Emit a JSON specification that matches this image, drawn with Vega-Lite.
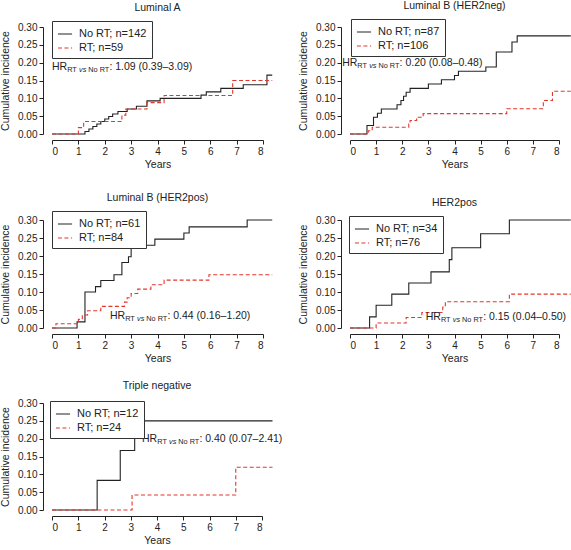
{
  "$schema": "https://vega.github.io/schema/vega-lite/v6.json",
  "padding": {"left": 0, "top": 1, "right": 0, "bottom": 0},
  "background": "white",
  "config": {
    "font": "Liberation Sans",
    "view": {"stroke": null},
    "title": {"font": "Liberation Sans", "fontSize": 10.5, "fontWeight": "normal", "color": "#222", "offset": 7},
    "axis": {"domainColor": "#222", "tickColor": "#222", "labelColor": "#222", "titleColor": "#222", "labelFont": "Liberation Sans", "titleFont": "Liberation Sans", "labelFontSize": 10, "titleFontSize": 10.5, "titleFontWeight": "normal", "grid": false, "tickSize": 4, "domainWidth": 1, "tickWidth": 1, "labelOverlap": false},
    "axisX": {"offset": 6, "format": "d", "tickCount": 8, "labelPadding": 2, "titlePadding": 3},
    "axisY": {"offset": 9, "format": ".2f", "tickCount": 6, "labelPadding": 2, "titlePadding": 7},
    "legend": {"title": null, "labelFont": "Liberation Sans", "labelFontSize": 11, "labelColor": "#222", "symbolType": "stroke", "symbolSize": 200, "symbolStrokeWidth": 1.1, "strokeColor": "#333", "fillColor": "white", "padding": 5, "rowPadding": 1, "labelOffset": 6}
  },
  "datasets": {
    "km": [
      {"panel": "LA", "series": "No RT; n=142", "t": 0, "ci": 0},
      {"panel": "LA", "series": "No RT; n=142", "t": 1.25, "ci": 0.007},
      {"panel": "LA", "series": "No RT; n=142", "t": 1.4, "ci": 0.014},
      {"panel": "LA", "series": "No RT; n=142", "t": 1.55, "ci": 0.021},
      {"panel": "LA", "series": "No RT; n=142", "t": 1.7, "ci": 0.028},
      {"panel": "LA", "series": "No RT; n=142", "t": 1.85, "ci": 0.035},
      {"panel": "LA", "series": "No RT; n=142", "t": 2.0, "ci": 0.042},
      {"panel": "LA", "series": "No RT; n=142", "t": 2.15, "ci": 0.049},
      {"panel": "LA", "series": "No RT; n=142", "t": 2.3, "ci": 0.056},
      {"panel": "LA", "series": "No RT; n=142", "t": 2.5, "ci": 0.063},
      {"panel": "LA", "series": "No RT; n=142", "t": 2.85, "ci": 0.07},
      {"panel": "LA", "series": "No RT; n=142", "t": 3.2, "ci": 0.078},
      {"panel": "LA", "series": "No RT; n=142", "t": 3.6, "ci": 0.093},
      {"panel": "LA", "series": "No RT; n=142", "t": 4.1, "ci": 0.1},
      {"panel": "LA", "series": "No RT; n=142", "t": 5.65, "ci": 0.109},
      {"panel": "LA", "series": "No RT; n=142", "t": 5.85, "ci": 0.118},
      {"panel": "LA", "series": "No RT; n=142", "t": 6.4, "ci": 0.128},
      {"panel": "LA", "series": "No RT; n=142", "t": 7.25, "ci": 0.138},
      {"panel": "LA", "series": "No RT; n=142", "t": 8.15, "ci": 0.165},
      {"panel": "LA", "series": "No RT; n=142", "t": 8.35, "ci": 0.165},
      {"panel": "LA", "series": "RT; n=59", "t": 0, "ci": 0},
      {"panel": "LA", "series": "RT; n=59", "t": 1.0, "ci": 0.018},
      {"panel": "LA", "series": "RT; n=59", "t": 1.2, "ci": 0.035},
      {"panel": "LA", "series": "RT; n=59", "t": 2.65, "ci": 0.053},
      {"panel": "LA", "series": "RT; n=59", "t": 2.8, "ci": 0.07},
      {"panel": "LA", "series": "RT; n=59", "t": 3.6, "ci": 0.088},
      {"panel": "LA", "series": "RT; n=59", "t": 4.25, "ci": 0.108},
      {"panel": "LA", "series": "RT; n=59", "t": 6.85, "ci": 0.15},
      {"panel": "LA", "series": "RT; n=59", "t": 8.35, "ci": 0.15},

      {"panel": "LBN", "series": "No RT; n=87", "t": 0, "ci": 0},
      {"panel": "LBN", "series": "No RT; n=87", "t": 0.65, "ci": 0.024},
      {"panel": "LBN", "series": "No RT; n=87", "t": 0.9, "ci": 0.047},
      {"panel": "LBN", "series": "No RT; n=87", "t": 1.05, "ci": 0.058},
      {"panel": "LBN", "series": "No RT; n=87", "t": 1.2, "ci": 0.07},
      {"panel": "LBN", "series": "No RT; n=87", "t": 1.8, "ci": 0.082},
      {"panel": "LBN", "series": "No RT; n=87", "t": 1.95, "ci": 0.094},
      {"panel": "LBN", "series": "No RT; n=87", "t": 2.05, "ci": 0.106},
      {"panel": "LBN", "series": "No RT; n=87", "t": 2.15, "ci": 0.117},
      {"panel": "LBN", "series": "No RT; n=87", "t": 2.3, "ci": 0.128},
      {"panel": "LBN", "series": "No RT; n=87", "t": 3.0, "ci": 0.14},
      {"panel": "LBN", "series": "No RT; n=87", "t": 3.5, "ci": 0.152},
      {"panel": "LBN", "series": "No RT; n=87", "t": 4.0, "ci": 0.164},
      {"panel": "LBN", "series": "No RT; n=87", "t": 4.15, "ci": 0.176},
      {"panel": "LBN", "series": "No RT; n=87", "t": 5.2, "ci": 0.188},
      {"panel": "LBN", "series": "No RT; n=87", "t": 5.6, "ci": 0.23},
      {"panel": "LBN", "series": "No RT; n=87", "t": 6.2, "ci": 0.258},
      {"panel": "LBN", "series": "No RT; n=87", "t": 6.4, "ci": 0.275},
      {"panel": "LBN", "series": "No RT; n=87", "t": 8.45, "ci": 0.275},
      {"panel": "LBN", "series": "RT; n=106", "t": 0, "ci": 0},
      {"panel": "LBN", "series": "RT; n=106", "t": 0.7, "ci": 0.009},
      {"panel": "LBN", "series": "RT; n=106", "t": 0.85, "ci": 0.019},
      {"panel": "LBN", "series": "RT; n=106", "t": 2.25, "ci": 0.028},
      {"panel": "LBN", "series": "RT; n=106", "t": 2.3, "ci": 0.038},
      {"panel": "LBN", "series": "RT; n=106", "t": 2.55, "ci": 0.047},
      {"panel": "LBN", "series": "RT; n=106", "t": 2.8, "ci": 0.057},
      {"panel": "LBN", "series": "RT; n=106", "t": 6.0, "ci": 0.071},
      {"panel": "LBN", "series": "RT; n=106", "t": 7.4, "ci": 0.094},
      {"panel": "LBN", "series": "RT; n=106", "t": 7.75, "ci": 0.12},
      {"panel": "LBN", "series": "RT; n=106", "t": 8.45, "ci": 0.12},

      {"panel": "LBP", "series": "No RT; n=61", "t": 0, "ci": 0},
      {"panel": "LBP", "series": "No RT; n=61", "t": 0.95, "ci": 0.017},
      {"panel": "LBP", "series": "No RT; n=61", "t": 1.25, "ci": 0.1},
      {"panel": "LBP", "series": "No RT; n=61", "t": 1.65, "ci": 0.115},
      {"panel": "LBP", "series": "No RT; n=61", "t": 1.85, "ci": 0.132},
      {"panel": "LBP", "series": "No RT; n=61", "t": 2.35, "ci": 0.148},
      {"panel": "LBP", "series": "No RT; n=61", "t": 2.65, "ci": 0.182},
      {"panel": "LBP", "series": "No RT; n=61", "t": 2.9, "ci": 0.198},
      {"panel": "LBP", "series": "No RT; n=61", "t": 3.0, "ci": 0.23},
      {"panel": "LBP", "series": "No RT; n=61", "t": 3.9, "ci": 0.247},
      {"panel": "LBP", "series": "No RT; n=61", "t": 5.0, "ci": 0.264},
      {"panel": "LBP", "series": "No RT; n=61", "t": 5.2, "ci": 0.281},
      {"panel": "LBP", "series": "No RT; n=61", "t": 7.4, "ci": 0.3},
      {"panel": "LBP", "series": "No RT; n=61", "t": 8.35, "ci": 0.3},
      {"panel": "LBP", "series": "RT; n=84", "t": 0, "ci": 0},
      {"panel": "LBP", "series": "RT; n=84", "t": 0.15, "ci": 0.012},
      {"panel": "LBP", "series": "RT; n=84", "t": 1.0, "ci": 0.024},
      {"panel": "LBP", "series": "RT; n=84", "t": 1.15, "ci": 0.036},
      {"panel": "LBP", "series": "RT; n=84", "t": 1.35, "ci": 0.048},
      {"panel": "LBP", "series": "RT; n=84", "t": 1.85, "ci": 0.06},
      {"panel": "LBP", "series": "RT; n=84", "t": 2.75, "ci": 0.072},
      {"panel": "LBP", "series": "RT; n=84", "t": 2.85, "ci": 0.084},
      {"panel": "LBP", "series": "RT; n=84", "t": 3.0, "ci": 0.096},
      {"panel": "LBP", "series": "RT; n=84", "t": 3.25, "ci": 0.108},
      {"panel": "LBP", "series": "RT; n=84", "t": 3.75, "ci": 0.12},
      {"panel": "LBP", "series": "RT; n=84", "t": 4.25, "ci": 0.133},
      {"panel": "LBP", "series": "RT; n=84", "t": 5.95, "ci": 0.148},
      {"panel": "LBP", "series": "RT; n=84", "t": 8.35, "ci": 0.148},

      {"panel": "H2", "series": "No RT; n=34", "t": 0, "ci": 0},
      {"panel": "H2", "series": "No RT; n=34", "t": 0.75, "ci": 0.031},
      {"panel": "H2", "series": "No RT; n=34", "t": 1.0, "ci": 0.063},
      {"panel": "H2", "series": "No RT; n=34", "t": 1.6, "ci": 0.094},
      {"panel": "H2", "series": "No RT; n=34", "t": 2.25, "ci": 0.125},
      {"panel": "H2", "series": "No RT; n=34", "t": 3.1, "ci": 0.156},
      {"panel": "H2", "series": "No RT; n=34", "t": 3.8, "ci": 0.19},
      {"panel": "H2", "series": "No RT; n=34", "t": 3.9, "ci": 0.223},
      {"panel": "H2", "series": "No RT; n=34", "t": 5.0, "ci": 0.262},
      {"panel": "H2", "series": "No RT; n=34", "t": 6.1, "ci": 0.3},
      {"panel": "H2", "series": "No RT; n=34", "t": 8.45, "ci": 0.3},
      {"panel": "H2", "series": "RT; n=76", "t": 0, "ci": 0},
      {"panel": "H2", "series": "RT; n=76", "t": 1.0, "ci": 0.014},
      {"panel": "H2", "series": "RT; n=76", "t": 2.15, "ci": 0.029},
      {"panel": "H2", "series": "RT; n=76", "t": 2.75, "ci": 0.043},
      {"panel": "H2", "series": "RT; n=76", "t": 3.55, "ci": 0.058},
      {"panel": "H2", "series": "RT; n=76", "t": 3.65, "ci": 0.073},
      {"panel": "H2", "series": "RT; n=76", "t": 6.1, "ci": 0.094},
      {"panel": "H2", "series": "RT; n=76", "t": 8.45, "ci": 0.094},

      {"panel": "TN", "series": "No RT; n=12", "t": 0, "ci": 0},
      {"panel": "TN", "series": "No RT; n=12", "t": 1.72, "ci": 0.083},
      {"panel": "TN", "series": "No RT; n=12", "t": 2.6, "ci": 0.167},
      {"panel": "TN", "series": "No RT; n=12", "t": 3.15, "ci": 0.25},
      {"panel": "TN", "series": "No RT; n=12", "t": 8.4, "ci": 0.25},
      {"panel": "TN", "series": "RT; n=24", "t": 0, "ci": 0},
      {"panel": "TN", "series": "RT; n=24", "t": 3.05, "ci": 0.042},
      {"panel": "TN", "series": "RT; n=24", "t": 7.0, "ci": 0.12},
      {"panel": "TN", "series": "RT; n=24", "t": 8.4, "ci": 0.12}
    ]
  },
  "resolve": {"scale": {"color": "independent", "strokeDash": "independent"}, "legend": {"color": "independent", "strokeDash": "independent"}},
  "vconcat": [
    {
      "resolve": {"scale": {"color": "independent", "strokeDash": "independent"}, "legend": {"color": "independent", "strokeDash": "independent"}},
      "vconcat": [
        {
          "resolve": {"scale": {"color": "independent", "strokeDash": "independent"}, "legend": {"color": "independent", "strokeDash": "independent"}},
          "hconcat": [
            {
              "width": 211, "height": 107,
              "title": "Luminal A",
              "layer": [
                {"data": {"name": "km"}, "transform": [{"filter": "datum.panel === 'LA'"}],
                 "mark": {"type": "line", "interpolate": "step-after", "strokeWidth": 1.1},
                 "encoding": {
                   "x": {"field": "t", "type": "quantitative", "scale": {"domain": [0, 8], "nice": false, "zero": false}, "axis": {"title": "Years"}},
                   "y": {"field": "ci", "type": "quantitative", "scale": {"domain": [0, 0.3], "nice": false}, "axis": {"title": "Cumulative incidence"}},
                   "color": {"field": "series", "type": "nominal", "scale": {"range": ["#222222", "#e3372d"]}, "legend": {"orient": "none", "legendX": 0, "legendY": -6}},
                   "strokeDash": {"field": "series", "type": "nominal", "scale": {"range": [[1, 0], [4, 2.5]]}, "legend": {"orient": "none", "legendX": 0, "legendY": -6}}
                 }},
                {"data": {"values": [{}]}, "mark": {"type": "text", "align": "left", "baseline": "middle", "fontSize": 10.5, "color": "#222", "text": "HR"}, "encoding": {"x": {"datum": 0, "type": "quantitative"}, "y": {"datum": 0.188, "type": "quantitative"}}},
                {"data": {"values": [{}]}, "mark": {"type": "text", "align": "left", "baseline": "middle", "fontSize": 7.3, "color": "#222", "dx": 15.2, "dy": 3, "text": "RT"}, "encoding": {"x": {"datum": 0, "type": "quantitative"}, "y": {"datum": 0.188, "type": "quantitative"}}},
                {"data": {"values": [{}]}, "mark": {"type": "text", "align": "left", "baseline": "middle", "fontSize": 7.3, "fontStyle": "italic", "color": "#222", "dx": 27, "dy": 3, "text": "vs"}, "encoding": {"x": {"datum": 0, "type": "quantitative"}, "y": {"datum": 0.188, "type": "quantitative"}}},
                {"data": {"values": [{}]}, "mark": {"type": "text", "align": "left", "baseline": "middle", "fontSize": 7.3, "color": "#222", "dx": 36.3, "dy": 3, "text": "No RT"}, "encoding": {"x": {"datum": 0, "type": "quantitative"}, "y": {"datum": 0.188, "type": "quantitative"}}},
                {"data": {"values": [{}]}, "mark": {"type": "text", "align": "left", "baseline": "middle", "fontSize": 10.5, "color": "#222", "dx": 57.4, "text": ": 1.09 (0.39–3.09)"}, "encoding": {"x": {"datum": 0, "type": "quantitative"}, "y": {"datum": 0.188, "type": "quantitative"}}}
              ]
            },
            {
              "width": 209, "height": 107,
              "title": "Luminal B (HER2neg)",
              "layer": [
                {"data": {"name": "km"}, "transform": [{"filter": "datum.panel === 'LBN'"}],
                 "mark": {"type": "line", "interpolate": "step-after", "strokeWidth": 1.1},
                 "encoding": {
                   "x": {"field": "t", "type": "quantitative", "scale": {"domain": [0, 8], "nice": false, "zero": false}, "axis": {"title": "Years"}},
                   "y": {"field": "ci", "type": "quantitative", "scale": {"domain": [0, 0.3], "nice": false}, "axis": {"title": "Cumulative incidence"}},
                   "color": {"field": "series", "type": "nominal", "scale": {"range": ["#222222", "#e3372d"]}, "legend": {"orient": "none", "legendX": 1, "legendY": -8}},
                   "strokeDash": {"field": "series", "type": "nominal", "scale": {"range": [[1, 0], [4, 2.5]]}, "legend": {"orient": "none", "legendX": 1, "legendY": -8}}
                 }},
                {"data": {"values": [{}]}, "mark": {"type": "text", "align": "left", "baseline": "middle", "fontSize": 10.5, "color": "#222", "text": "HR"}, "encoding": {"x": {"datum": -0.3, "type": "quantitative"}, "y": {"datum": 0.199, "type": "quantitative"}}},
                {"data": {"values": [{}]}, "mark": {"type": "text", "align": "left", "baseline": "middle", "fontSize": 7.3, "color": "#222", "dx": 15.2, "dy": 3, "text": "RT"}, "encoding": {"x": {"datum": -0.3, "type": "quantitative"}, "y": {"datum": 0.199, "type": "quantitative"}}},
                {"data": {"values": [{}]}, "mark": {"type": "text", "align": "left", "baseline": "middle", "fontSize": 7.3, "fontStyle": "italic", "color": "#222", "dx": 27, "dy": 3, "text": "vs"}, "encoding": {"x": {"datum": -0.3, "type": "quantitative"}, "y": {"datum": 0.199, "type": "quantitative"}}},
                {"data": {"values": [{}]}, "mark": {"type": "text", "align": "left", "baseline": "middle", "fontSize": 7.3, "color": "#222", "dx": 36.3, "dy": 3, "text": "No RT"}, "encoding": {"x": {"datum": -0.3, "type": "quantitative"}, "y": {"datum": 0.199, "type": "quantitative"}}},
                {"data": {"values": [{}]}, "mark": {"type": "text", "align": "left", "baseline": "middle", "fontSize": 10.5, "color": "#222", "dx": 57.4, "text": ": 0.20 (0.08–0.48)"}, "encoding": {"x": {"datum": -0.3, "type": "quantitative"}, "y": {"datum": 0.199, "type": "quantitative"}}}
              ]
            }
          ],
          "spacing": 23
        },
        {
          "resolve": {"scale": {"color": "independent", "strokeDash": "independent"}, "legend": {"color": "independent", "strokeDash": "independent"}},
          "hconcat": [
            {
              "width": 211, "height": 108,
              "title": "Luminal B (HER2pos)",
              "layer": [
                {"data": {"name": "km"}, "transform": [{"filter": "datum.panel === 'LBP'"}],
                 "mark": {"type": "line", "interpolate": "step-after", "strokeWidth": 1.1},
                 "encoding": {
                   "x": {"field": "t", "type": "quantitative", "scale": {"domain": [0, 8], "nice": false, "zero": false}, "axis": {"title": "Years"}},
                   "y": {"field": "ci", "type": "quantitative", "scale": {"domain": [0, 0.3], "nice": false}, "axis": {"title": "Cumulative incidence"}},
                   "color": {"field": "series", "type": "nominal", "scale": {"range": ["#222222", "#e3372d"]}, "legend": {"orient": "none", "legendX": 0, "legendY": -9}},
                   "strokeDash": {"field": "series", "type": "nominal", "scale": {"range": [[1, 0], [4, 2.5]]}, "legend": {"orient": "none", "legendX": 0, "legendY": -9}}
                 }},
                {"data": {"values": [{}]}, "mark": {"type": "text", "align": "left", "baseline": "middle", "fontSize": 10.5, "color": "#222", "text": "HR"}, "encoding": {"x": {"datum": 2.2, "type": "quantitative"}, "y": {"datum": 0.032, "type": "quantitative"}}},
                {"data": {"values": [{}]}, "mark": {"type": "text", "align": "left", "baseline": "middle", "fontSize": 7.3, "color": "#222", "dx": 15.2, "dy": 3, "text": "RT"}, "encoding": {"x": {"datum": 2.2, "type": "quantitative"}, "y": {"datum": 0.032, "type": "quantitative"}}},
                {"data": {"values": [{}]}, "mark": {"type": "text", "align": "left", "baseline": "middle", "fontSize": 7.3, "fontStyle": "italic", "color": "#222", "dx": 27, "dy": 3, "text": "vs"}, "encoding": {"x": {"datum": 2.2, "type": "quantitative"}, "y": {"datum": 0.032, "type": "quantitative"}}},
                {"data": {"values": [{}]}, "mark": {"type": "text", "align": "left", "baseline": "middle", "fontSize": 7.3, "color": "#222", "dx": 36.3, "dy": 3, "text": "No RT"}, "encoding": {"x": {"datum": 2.2, "type": "quantitative"}, "y": {"datum": 0.032, "type": "quantitative"}}},
                {"data": {"values": [{}]}, "mark": {"type": "text", "align": "left", "baseline": "middle", "fontSize": 10.5, "color": "#222", "dx": 57.4, "text": ": 0.44 (0.16–1.20)"}, "encoding": {"x": {"datum": 2.2, "type": "quantitative"}, "y": {"datum": 0.032, "type": "quantitative"}}}
              ]
            },
            {
              "width": 209, "height": 108,
              "title": "HER2pos",
              "layer": [
                {"data": {"name": "km"}, "transform": [{"filter": "datum.panel === 'H2'"}],
                 "mark": {"type": "line", "interpolate": "step-after", "strokeWidth": 1.1},
                 "encoding": {
                   "x": {"field": "t", "type": "quantitative", "scale": {"domain": [0, 8], "nice": false, "zero": false}, "axis": {"title": "Years"}},
                   "y": {"field": "ci", "type": "quantitative", "scale": {"domain": [0, 0.3], "nice": false}, "axis": {"title": "Cumulative incidence"}},
                   "color": {"field": "series", "type": "nominal", "scale": {"range": ["#222222", "#e3372d"]}, "legend": {"orient": "none", "legendX": -1, "legendY": -4}},
                   "strokeDash": {"field": "series", "type": "nominal", "scale": {"range": [[1, 0], [4, 2.5]]}, "legend": {"orient": "none", "legendX": -1, "legendY": -4}}
                 }},
                {"data": {"values": [{}]}, "mark": {"type": "text", "align": "left", "baseline": "middle", "fontSize": 10.5, "color": "#222", "text": "HR"}, "encoding": {"x": {"datum": 2.9, "type": "quantitative"}, "y": {"datum": 0.03, "type": "quantitative"}}},
                {"data": {"values": [{}]}, "mark": {"type": "text", "align": "left", "baseline": "middle", "fontSize": 7.3, "color": "#222", "dx": 15.2, "dy": 3, "text": "RT"}, "encoding": {"x": {"datum": 2.9, "type": "quantitative"}, "y": {"datum": 0.03, "type": "quantitative"}}},
                {"data": {"values": [{}]}, "mark": {"type": "text", "align": "left", "baseline": "middle", "fontSize": 7.3, "fontStyle": "italic", "color": "#222", "dx": 27, "dy": 3, "text": "vs"}, "encoding": {"x": {"datum": 2.9, "type": "quantitative"}, "y": {"datum": 0.03, "type": "quantitative"}}},
                {"data": {"values": [{}]}, "mark": {"type": "text", "align": "left", "baseline": "middle", "fontSize": 7.3, "color": "#222", "dx": 36.3, "dy": 3, "text": "No RT"}, "encoding": {"x": {"datum": 2.9, "type": "quantitative"}, "y": {"datum": 0.03, "type": "quantitative"}}},
                {"data": {"values": [{}]}, "mark": {"type": "text", "align": "left", "baseline": "middle", "fontSize": 10.5, "color": "#222", "dx": 57.4, "text": ": 0.15 (0.04–0.50)"}, "encoding": {"x": {"datum": 2.9, "type": "quantitative"}, "y": {"datum": 0.03, "type": "quantitative"}}}
              ]
            }
          ],
          "spacing": 23
        }
      ],
      "spacing": 23
    },
    {
      "width": 210, "height": 107,
      "title": "Triple negative",
      "layer": [
        {"data": {"name": "km"}, "transform": [{"filter": "datum.panel === 'TN'"}],
         "mark": {"type": "line", "interpolate": "step-after", "strokeWidth": 1.1},
         "encoding": {
           "x": {"field": "t", "type": "quantitative", "scale": {"domain": [0, 8], "nice": false, "zero": false}, "axis": {"title": "Years"}},
           "y": {"field": "ci", "type": "quantitative", "scale": {"domain": [0, 0.3], "nice": false}, "axis": {"title": "Cumulative incidence"}},
           "color": {"field": "series", "type": "nominal", "scale": {"range": ["#222222", "#e3372d"]}, "legend": {"orient": "none", "legendX": -2, "legendY": -2}},
           "strokeDash": {"field": "series", "type": "nominal", "scale": {"range": [[1, 0], [4, 2.5]]}, "legend": {"orient": "none", "legendX": -2, "legendY": -2}}
         }},
        {"data": {"values": [{}]}, "mark": {"type": "text", "align": "left", "baseline": "middle", "fontSize": 10.5, "color": "#222", "text": "HR"}, "encoding": {"x": {"datum": 3.43, "type": "quantitative"}, "y": {"datum": 0.2, "type": "quantitative"}}},
        {"data": {"values": [{}]}, "mark": {"type": "text", "align": "left", "baseline": "middle", "fontSize": 7.3, "color": "#222", "dx": 15.2, "dy": 3, "text": "RT"}, "encoding": {"x": {"datum": 3.43, "type": "quantitative"}, "y": {"datum": 0.2, "type": "quantitative"}}},
        {"data": {"values": [{}]}, "mark": {"type": "text", "align": "left", "baseline": "middle", "fontSize": 7.3, "fontStyle": "italic", "color": "#222", "dx": 27, "dy": 3, "text": "vs"}, "encoding": {"x": {"datum": 3.43, "type": "quantitative"}, "y": {"datum": 0.2, "type": "quantitative"}}},
        {"data": {"values": [{}]}, "mark": {"type": "text", "align": "left", "baseline": "middle", "fontSize": 7.3, "color": "#222", "dx": 36.3, "dy": 3, "text": "No RT"}, "encoding": {"x": {"datum": 3.43, "type": "quantitative"}, "y": {"datum": 0.2, "type": "quantitative"}}},
        {"data": {"values": [{}]}, "mark": {"type": "text", "align": "left", "baseline": "middle", "fontSize": 10.5, "color": "#222", "dx": 57.4, "text": ": 0.40 (0.07–2.41)"}, "encoding": {"x": {"datum": 3.43, "type": "quantitative"}, "y": {"datum": 0.2, "type": "quantitative"}}}
      ]
    }
  ],
  "spacing": 16
}
